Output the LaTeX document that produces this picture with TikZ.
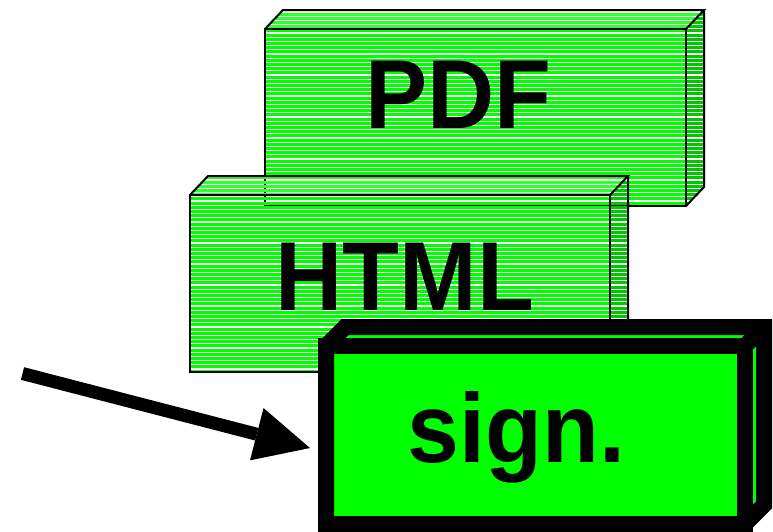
\documentclass[tikz,border=0pt]{standalone}
\usepackage{fontspec}
\setmainfont{Liberation Sans}
\usetikzlibrary{arrows.meta}
\definecolor{frontg}{RGB}{0,255,0}
\definecolor{topg}{RGB}{48,255,48}
\definecolor{sideg}{RGB}{0,200,0}
\tikzset{
  face/.style={inner sep=0pt, outer sep=0pt, anchor=north west},
  thinedge/.style={draw=black, line width=2pt, line join=miter},
  thickedge/.style={draw=black, line width=16pt, line join=miter},
  stripe/.style={line width=2.9pt},
  bigtext/.style={inner sep=0pt, anchor=base, font=\fontsize{98}{98}\selectfont\bfseries},
  bigarrow/.style={line width=13pt, -{Triangle[length=55pt, width=54pt, line width=0pt]}}
}
\newcommand\stripefill[2]{% #1 colour, #2 clip path
  \begin{scope}
    \clip #2;
    \foreach \yy in {0,4.2,...,528} \draw[stripe, #1] (0,\yy+1.5) -- (773,\yy+1.5);
  \end{scope}}
\newcommand\narrow[1]{\scalebox{0.95}[1]{#1}}
\begin{document}
\begin{tikzpicture}[x=1pt, y=-1pt]
\useasboundingbox (0,0) rectangle (773,531);
% ---------- PDF box ----------
\node[face, minimum width=421pt, minimum height=177pt] (pdf) at (265,29) {};
\coordinate (pdfbl) at ([shift={(18pt,19pt)}]pdf.north west);
\coordinate (pdfbr) at ([shift={(18pt,19pt)}]pdf.north east);
\coordinate (pdfbb) at ([shift={(18pt,19pt)}]pdf.south east);
\stripefill{frontg}{(pdf.north west) rectangle (pdf.south east)}
\stripefill{topg}{(pdf.north west) -- (pdfbl) -- (pdfbr) -- (pdf.north east) -- cycle}
\stripefill{sideg}{(pdf.north east) -- (pdfbr) -- (pdfbb) -- (pdf.south east) -- cycle}
\draw[thinedge] (pdf.north west) rectangle (pdf.south east);
\draw[thinedge] (pdf.north west) -- (pdfbl) -- (pdfbr) -- (pdf.north east);
\draw[thinedge] (pdfbr) -- (pdfbb) -- (pdf.south east);
\node[bigtext] (pdftext) at (458.5,128) {\narrow{PDF}};
% ---------- HTML box ----------
\node[face, minimum width=420pt, minimum height=177pt] (html) at (190,195) {};
\coordinate (htmlbl) at ([shift={(18pt,19pt)}]html.north west);
\coordinate (htmlbr) at ([shift={(18pt,19pt)}]html.north east);
\coordinate (htmlbb) at ([shift={(18pt,19pt)}]html.south east);
\stripefill{frontg}{(html.north west) rectangle (html.south east)}
\stripefill{topg}{(html.north west) -- (htmlbl) -- (htmlbr) -- (html.north east) -- cycle}
\stripefill{sideg}{(html.north east) -- (htmlbr) -- (htmlbb) -- (html.south east) -- cycle}
\draw[thinedge] (html.north west) rectangle (html.south east);
\draw[thinedge] (html.north west) -- (htmlbl) -- (htmlbr) -- (html.north east);
\draw[thinedge] (htmlbr) -- (htmlbb) -- (html.south east);
\node[bigtext] (htmltext) at (405,310) {\narrow{HTML}};
% ---------- sign box ----------
\node[face, minimum width=419pt, minimum height=178pt] (sign) at (326,346) {};
\coordinate (signbl) at ([shift={(19pt,19pt)}]sign.north west);
\coordinate (signbr) at ([shift={(19pt,19pt)}]sign.north east);
\coordinate (signbb) at ([shift={(19pt,19pt)}]sign.south east);
\fill[frontg] (sign.south west) -- (sign.north west) -- (signbl) -- (signbr) -- (signbb) -- (sign.south east) -- cycle;
\draw[thickedge] (sign.south west) -- (sign.north west) -- (signbl) -- (signbr) -- (signbb) -- (sign.south east) -- cycle;
\draw[thickedge] (sign.north west) rectangle (sign.south east);
\draw[thickedge] (sign.north east) -- (signbr);
\node[bigtext] (signtext) at (516.5,462) {\narrow{sign.}};
% ---------- arrow ----------
\coordinate (astart) at (22.5,373.5);
\coordinate (atip) at (310,448);
\draw[bigarrow] (astart) -- (atip);
\end{tikzpicture}
\end{document}
